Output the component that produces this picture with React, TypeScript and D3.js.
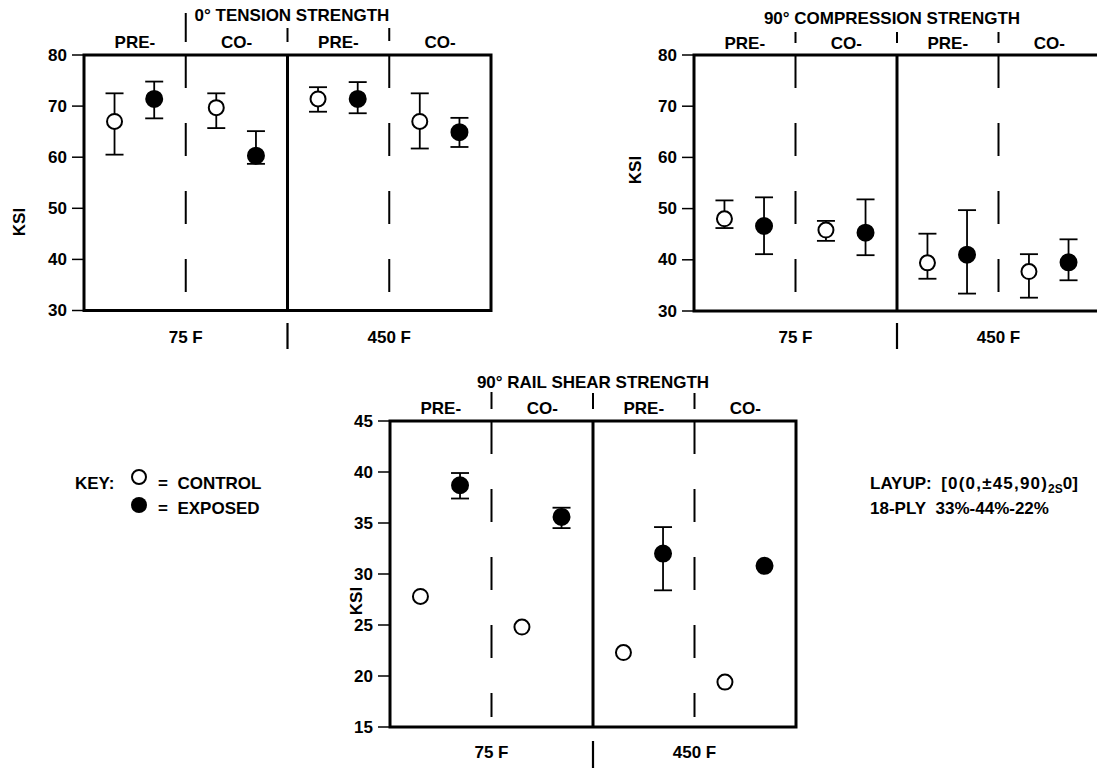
import React from "react";
import * as d3 from "d3";

// shared category labels
const sectionLabels = ["PRE-", "CO-", "PRE-", "CO-"];
const tempLabels = ["75 F", "450 F"];

// 0° tension strength (KSI)
const tensionTicks = [30, 40, 50, 60, 70, 80];
const tensionControl = [67.0, 69.7, 71.4, 67.0];
const tensionControlLo = [60.5, 65.7, 68.9, 61.7];
const tensionControlHi = [72.5, 72.5, 73.7, 72.5];
const tensionExposed = [71.4, 60.3, 71.4, 64.9];
const tensionExposedLo = [67.6, 58.7, 68.6, 62.0];
const tensionExposedHi = [74.8, 65.1, 74.7, 67.7];

// 90° compression strength (KSI)
const compTicks = [30, 40, 50, 60, 70, 80];
const compControl = [48.0, 45.8, 39.4, 37.7];
const compControlLo = [46.2, 43.7, 36.3, 32.6];
const compControlHi = [51.6, 47.6, 45.1, 41.1];
const compExposed = [46.6, 45.3, 41.0, 39.5];
const compExposedLo = [41.1, 40.9, 33.4, 36.0];
const compExposedHi = [52.2, 51.8, 49.7, 44.0];

// 90° rail shear strength (KSI)
const shearTicks = [15, 20, 25, 30, 35, 40, 45];
const shearControl = [27.8, 24.8, 22.3, 19.4];
const shearControlLo = [null, null, null, null];
const shearControlHi = [null, null, null, null];
const shearExposed = [38.7, 35.6, 32.0, 30.8];
const shearExposedLo = [37.4, 34.5, 28.4, null];
const shearExposedHi = [39.9, 36.5, 34.6, null];

const FONT = "'Liberation Sans', Arial, Helvetica, sans-serif";
const FS = 17;

type Series = { mean: number[]; lo: (number | null)[]; hi: (number | null)[] };

type PanelProps = {
  title: string;
  titleX: number;
  left: number;
  right: number;
  top: number;
  bottom: number;
  domain: [number, number];
  ticks: number[];
  control: Series;
  exposed: Series;
  titleY: number;
  labelY: number;
  tempY: number;
  ksi: [number, number];
  above: [number, number][];
  below: [number, number];
  dashLen: number;
};

const Marks = ({ s, x, y, offset, filled }: any) => (
  <g>
    {s.mean.map((m: number, i: number) => {
      const cx = x(i + offset);
      const lo = s.lo[i];
      const hi = s.hi[i];
      return (
        <g key={i}>
          {lo != null && hi != null && (
            <g stroke="#000" strokeWidth={1.8}>
              <line x1={cx} x2={cx} y1={y(lo)} y2={y(hi)} />
              <line x1={cx - 9} x2={cx + 9} y1={y(lo)} y2={y(lo)} />
              <line x1={cx - 9} x2={cx + 9} y1={y(hi)} y2={y(hi)} />
            </g>
          )}
          <circle
            cx={cx}
            cy={y(m)}
            r={filled ? 8 : 7.5}
            fill={filled ? "#000" : "#fff"}
            stroke="#000"
            strokeWidth={2}
          />
        </g>
      );
    })}
  </g>
);

const Panel = (p: PanelProps) => {
  const x = d3.scaleLinear().domain([0, 4]).range([p.left, p.right]);
  const y = d3.scaleLinear().domain(p.domain).range([p.bottom, p.top]);
  return (
    <g fontFamily={FONT} fontWeight="bold" fill="#000" fontSize={FS}>
      <text x={p.titleX} y={p.titleY} textAnchor="middle" dominantBaseline="central">
        {p.title}
      </text>
      {sectionLabels.map((l, i) => (
        <text key={i} x={x(i + 0.5)} y={p.labelY} textAnchor="middle" dominantBaseline="central">
          {l}
        </text>
      ))}
      {tempLabels.map((l, i) => (
        <text key={i} x={x(i * 2 + 1)} y={p.tempY} textAnchor="middle" dominantBaseline="central">
          {l}
        </text>
      ))}
      <text
        transform={`translate(${p.ksi[0]},${p.ksi[1]}) rotate(-90)`}
        textAnchor="middle"
        dominantBaseline="central"
      >
        KSI
      </text>
      {p.ticks.map((t) => (
        <g key={t}>
          <line x1={p.left - 12} x2={p.left} y1={y(t)} y2={y(t)} stroke="#000" strokeWidth={1.5} />
          <text x={p.left - 17} y={y(t)} textAnchor="end" dominantBaseline="central">
            {t}
          </text>
        </g>
      ))}
      <rect
        x={p.left}
        y={p.top}
        width={p.right - p.left}
        height={p.bottom - p.top}
        fill="none"
        stroke="#000"
        strokeWidth={3}
      />
      <line x1={x(2)} x2={x(2)} y1={p.top} y2={p.bottom} stroke="#000" strokeWidth={3} />
      <line x1={x(2)} x2={x(2)} y1={p.below[0]} y2={p.below[1]} stroke="#000" strokeWidth={2.2} />
      {[1, 3].map((d) => (
        <line
          key={d}
          x1={x(d)}
          x2={x(d)}
          y1={p.top}
          y2={p.top + p.dashLen}
          stroke="#000"
          strokeWidth={2}
          strokeDasharray="33 35"
        />
      ))}
      {[1, 2, 3].map((d, i) => (
        <line
          key={d}
          x1={x(d)}
          x2={x(d)}
          y1={p.above[i][0]}
          y2={p.above[i][1]}
          stroke="#000"
          strokeWidth={2}
        />
      ))}
      <Marks s={p.control} x={x} y={y} offset={0.3} filled={false} />
      <Marks s={p.exposed} x={x} y={y} offset={0.69} filled={true} />
    </g>
  );
};

export default function App() {
  return (
    <svg
      width={1097}
      height={768}
      style={{ position: "absolute", left: 0, top: 0, background: "#fff" }}
    >
      <rect width={1097} height={768} fill="#fff" />
      <Panel
        title="0° TENSION STRENGTH"
        titleX={292}
        left={84}
        right={491}
        top={55}
        bottom={310.5}
        domain={[30, 80]}
        ticks={tensionTicks}
        control={{ mean: tensionControl, lo: tensionControlLo, hi: tensionControlHi }}
        exposed={{ mean: tensionExposed, lo: tensionExposedLo, hi: tensionExposedHi }}
        titleY={15}
        labelY={42}
        tempY={337}
        ksi={[19, 222]}
        above={[[13, 42], [28, 42], [28, 41]]}
        below={[323, 349]}
        dashLen={238}
      />
      <Panel
        title="90° COMPRESSION STRENGTH"
        titleX={892}
        left={694}
        right={1100}
        top={55}
        bottom={311}
        domain={[30, 80]}
        ticks={compTicks}
        control={{ mean: compControl, lo: compControlLo, hi: compControlHi }}
        exposed={{ mean: compExposed, lo: compExposedLo, hi: compExposedHi }}
        titleY={18}
        labelY={43}
        tempY={337}
        ksi={[635, 170]}
        above={[[32, 43], [32, 43], [32, 43]]}
        below={[323, 349]}
        dashLen={238}
      />
      <Panel
        title="90° RAIL SHEAR STRENGTH"
        titleX={593}
        left={390}
        right={796}
        top={421}
        bottom={727}
        domain={[15, 45]}
        ticks={shearTicks}
        control={{ mean: shearControl, lo: shearControlLo, hi: shearControlHi }}
        exposed={{ mean: shearExposed, lo: shearExposedLo, hi: shearExposedHi }}
        titleY={382}
        labelY={408}
        tempY={752}
        ksi={[356, 601]}
        above={[[392, 409], [393, 409], [393, 409]]}
        below={[741, 768]}
        dashLen={296}
      />
      <g fontFamily={FONT} fontWeight="bold" fontSize={FS} fill="#000">
        <text x={75} y={483} dominantBaseline="central">KEY:</text>
        <circle cx={139} cy={477} r={7} fill="#fff" stroke="#000" strokeWidth={2} />
        <text x={158} y={483} dominantBaseline="central">={"\u00a0\u00a0"}CONTROL</text>
        <circle cx={139} cy={505} r={8} fill="#000" />
        <text x={158} y={508} dominantBaseline="central">={"\u00a0\u00a0"}EXPOSED</text>
        <text x={870} y={483} dominantBaseline="central">
          LAYUP:{"\u00a0\u00a0"}
          <tspan letterSpacing={1.2}>[0(0,±45,90)</tspan>
          <tspan fontSize={12} dy={6}>2S</tspan>
          <tspan dy={-6}>0]</tspan>
        </text>
        <text x={870} y={508} dominantBaseline="central">18-PLY{"\u00a0\u00a0"}33%-44%-22%</text>
      </g>
    </svg>
  );
}
